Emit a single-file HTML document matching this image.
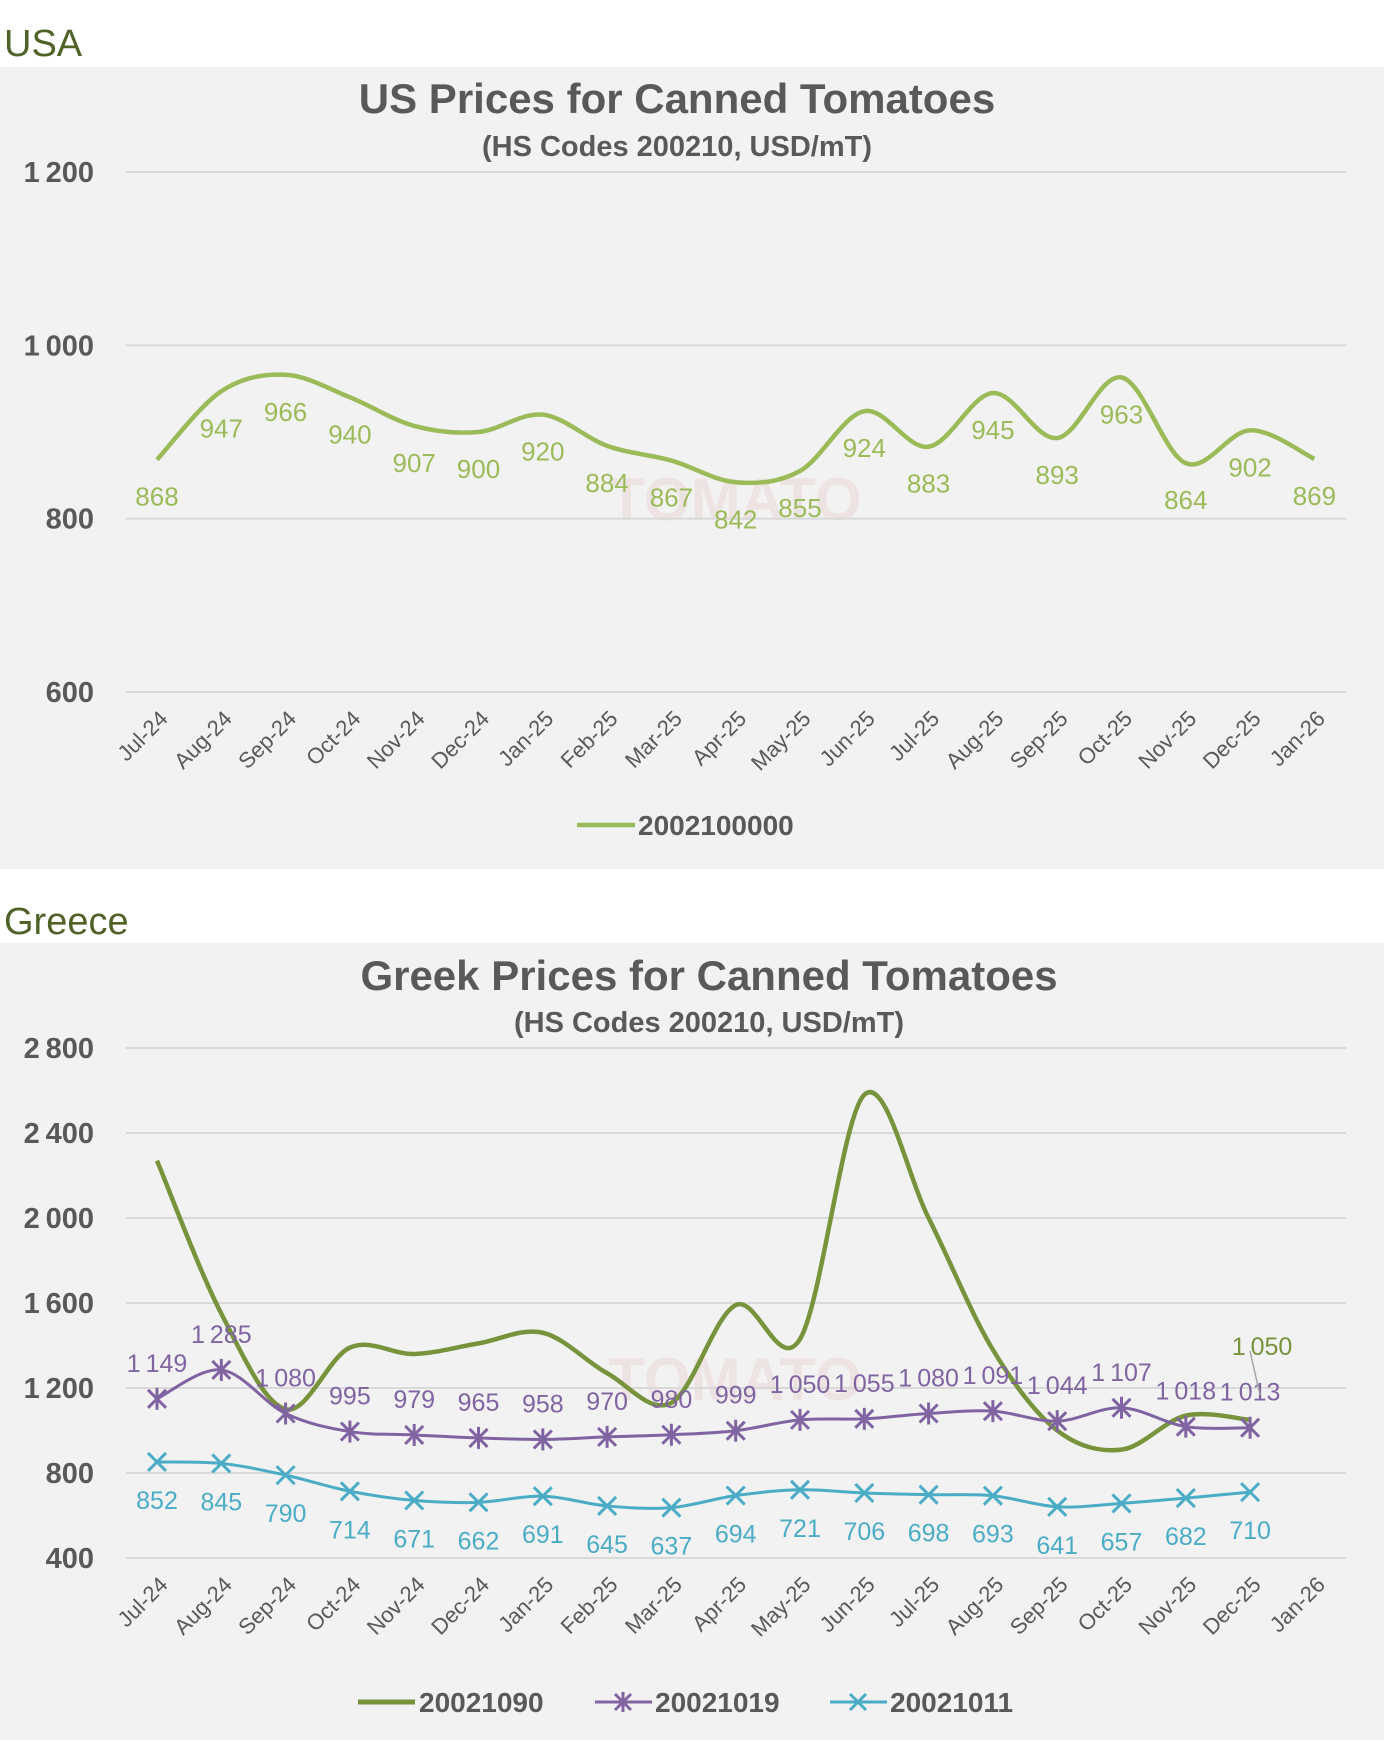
<!DOCTYPE html>
<html><head><meta charset="utf-8">
<style>
html,body{margin:0;padding:0;background:#fff;width:1384px;height:1740px;overflow:hidden}
svg{display:block;font-family:"Liberation Sans",Arial,sans-serif}
</style></head>
<body>
<svg id="s" width="1384" height="1740" viewBox="0 0 1384 1740" xmlns="http://www.w3.org/2000/svg">
<rect x="0" y="0" width="1384" height="1740" fill="#fff"/>
<text x="4" y="56" font-size="38" fill="#4F6228">USA</text>
<rect x="0" y="67" width="1384" height="802" fill="#f2f2f2"/>
<text x="4" y="934" font-size="38" fill="#4F6228">Greece</text>
<rect x="0" y="943" width="1384" height="797" fill="#f2f2f2"/>
<g font-weight="bold" fill="#595959" text-anchor="middle">
<text x="677" y="113" font-size="42">US Prices for Canned Tomatoes</text>
<text x="677" y="156" font-size="29">(HS Codes 200210, USD/mT)</text>
<text x="709" y="990" font-size="42">Greek Prices for Canned Tomatoes</text>
<text x="709" y="1032" font-size="29">(HS Codes 200210, USD/mT)</text>
</g>
<g font-size="60" font-weight="bold" fill="#e8c8c8" opacity="0.35" text-anchor="middle">
<text x="735" y="520">TOMATO</text><text x="735" y="1400">TOMATO</text>
</g>
<g id="g"></g>
</svg>
<script>
var NS="http://www.w3.org/2000/svg",G=document.getElementById('g');
function el(t,a,txt){var e=document.createElementNS(NS,t);for(var k in a)e.setAttribute(k,a[k]);if(txt!=null)e.textContent=txt;G.appendChild(e);return e;}
var cats=["Jul-24","Aug-24","Sep-24","Oct-24","Nov-24","Dec-24","Jan-25","Feb-25","Mar-25","Apr-25","May-25","Jun-25","Jul-25","Aug-25","Sep-25","Oct-25","Nov-25","Dec-25","Jan-26"];
function X(i){return 157+64.3*i;}
function fmt(v){v=String(v);return v.length>3?v.slice(0,v.length-3)+"\u2009"+v.slice(-3):v;}
function curve(pts){var d="M"+pts[0][0]+","+pts[0][1];for(var i=0;i<pts.length-1;i++){var p0=pts[i-1]||pts[i],p1=pts[i],p2=pts[i+1],p3=pts[i+2]||p2;var c1x=p1[0]+(p2[0]-p0[0])/6,c1y=p1[1]+(p2[1]-p0[1])/6,c2x=p2[0]-(p3[0]-p1[0])/6,c2y=p2[1]-(p3[1]-p1[1])/6;d+=" C"+c1x+","+c1y+" "+c2x+","+c2y+" "+p2[0]+","+p2[1];}return d;}
function axes(Y,ticks,base){
 ticks.forEach(function(v){var y=Y(v);el('line',{x1:126,x2:1346,y1:y,y2:y,stroke:'#d9d9d9','stroke-width':2});
 el('text',{x:94,y:y+10,'font-size':29,'font-weight':'bold',fill:'#595959','text-anchor':'end'},fmt(v));});
 cats.forEach(function(c,i){var x=X(i)+12,y=base;el('text',{x:x,y:y,'font-size':22,fill:'#595959','text-anchor':'end',transform:'rotate(-45 '+x+' '+y+')'},c);});
}
// US chart
var Y1=function(v){return 692-(v-600)*0.8667;};
axes(Y1,[600,800,1000,1200],720);
var us=[868,947,966,940,907,900,920,884,867,842,855,924,883,945,893,963,864,902,869];
var p=us.map(function(v,i){return [X(i),Y1(v)];});
el('path',{d:curve(p),fill:'none',stroke:'#9BBB59','stroke-width':4.5});
us.forEach(function(v,i){el('text',{x:X(i),y:Y1(v)+46,'font-size':26,fill:'#9BBB59','text-anchor':'middle'},v);});
el('line',{x1:577,x2:635,y1:825,y2:825,stroke:'#9BBB59','stroke-width':4.5});
el('text',{x:638,y:835,'font-size':28,'font-weight':'bold',fill:'#595959'},"2002100000");
// Greek chart
var Y2=function(v){return 1558-(v-400)*0.2125;};
axes(Y2,[400,800,1200,1600,2000,2400,2800],1586);
var g1=[2270,1550,1100,1390,1360,1410,1460,1270,1130,1590,1430,2580,2000,1380,1000,910,1070,1050];
var g2=[1149,1285,1080,995,979,965,958,970,980,999,1050,1055,1080,1091,1044,1107,1018,1013];
var g3=[852,845,790,714,671,662,691,645,637,694,721,706,698,693,641,657,682,710];
function pts(a){return a.map(function(v,i){return [X(i),Y2(v)];});}
el('path',{d:curve(pts(g1)),fill:'none',stroke:'#77933C','stroke-width':4.5});
el('path',{d:curve(pts(g2)),fill:'none',stroke:'#8064A2','stroke-width':3});
el('path',{d:curve(pts(g3)),fill:'none',stroke:'#4BACC6','stroke-width':3});
function star(x,y,c,s){el('path',{d:"M"+(x-s)+","+(y-s)+"L"+(x+s)+","+(y+s)+"M"+(x-s)+","+(y+s)+"L"+(x+s)+","+(y-s),stroke:c,'stroke-width':3,fill:'none'});}
g2.forEach(function(v,i){var x=X(i),y=Y2(v);star(x,y,'#8064A2',9);el('line',{x1:x,x2:x,y1:y-11,y2:y+11,stroke:'#8064A2','stroke-width':3});
 el('text',{x:x,y:y-27,'font-size':25,fill:'#8064A2','text-anchor':'middle'},fmt(v));});
g3.forEach(function(v,i){var x=X(i),y=Y2(v);star(x,y,'#4BACC6',9);
 el('text',{x:x,y:y+47,'font-size':25,fill:'#4BACC6','text-anchor':'middle'},v);});
el('line',{x1:1250,x2:1260,y1:1351,y2:1395,stroke:'#a6a6a6','stroke-width':1.5});
el('text',{x:1262,y:1355,'font-size':25,fill:'#77933C','text-anchor':'middle'},"1\u2009050");
// legend
el('line',{x1:358,x2:415,y1:1702,y2:1702,stroke:'#77933C','stroke-width':5});
el('text',{x:419,y:1712,'font-size':28,'font-weight':'bold',fill:'#595959'},"20021090");
el('line',{x1:595,x2:652,y1:1702,y2:1702,stroke:'#8064A2','stroke-width':3});
star(623,1702,'#8064A2',8);el('line',{x1:623,x2:623,y1:1692,y2:1712,stroke:'#8064A2','stroke-width':3});
el('text',{x:655,y:1712,'font-size':28,'font-weight':'bold',fill:'#595959'},"20021019");
el('line',{x1:830,x2:887,y1:1702,y2:1702,stroke:'#4BACC6','stroke-width':3});
star(858,1702,'#4BACC6',8);
el('text',{x:890,y:1712,'font-size':28,'font-weight':'bold',fill:'#595959'},"20021011");
</script>
</body></html>
